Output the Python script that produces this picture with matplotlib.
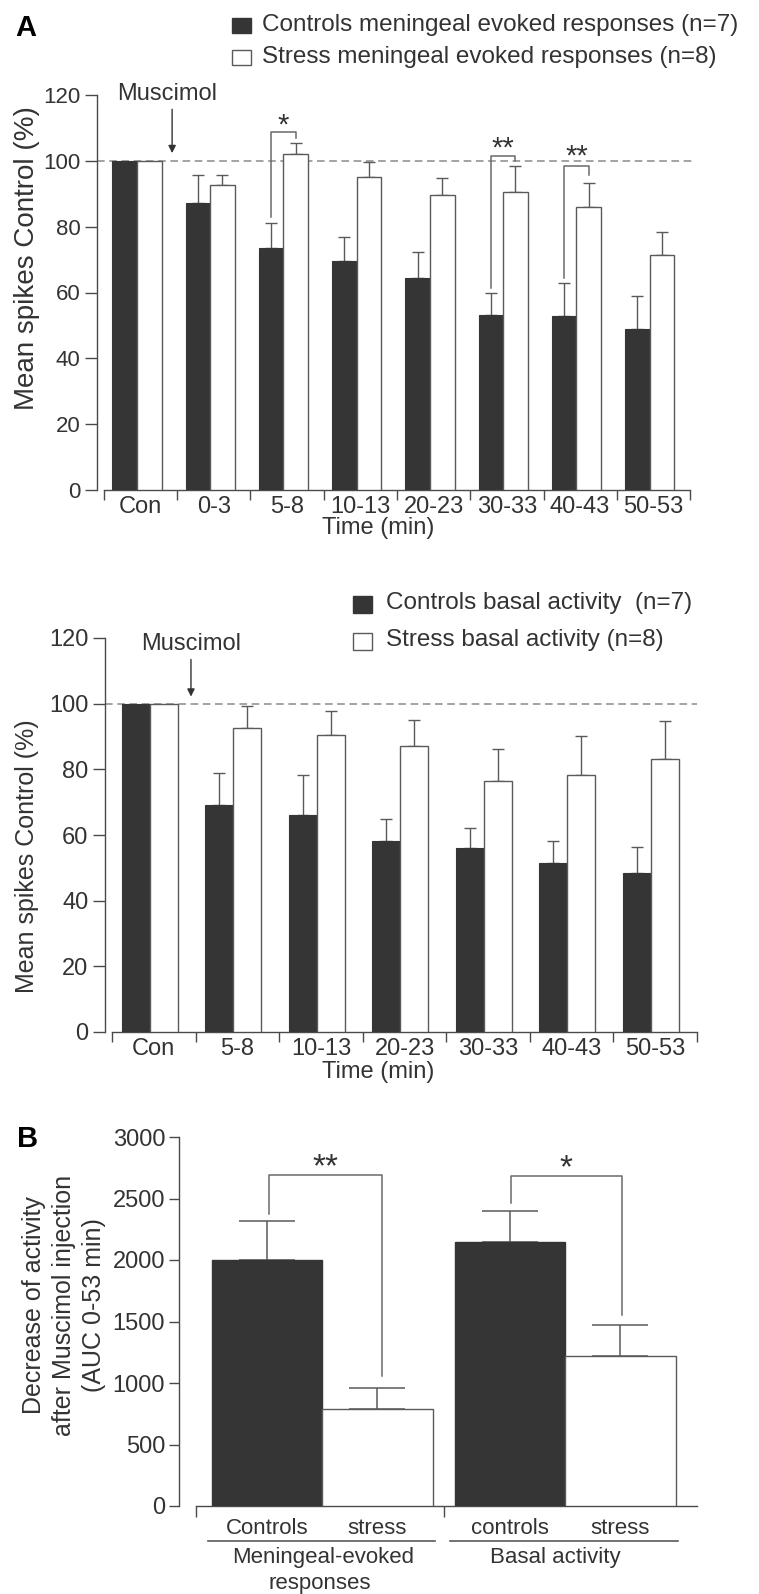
import numpy as np
import matplotlib
matplotlib.use("Agg")
import matplotlib.pyplot as plt
from matplotlib.patches import Rectangle
from matplotlib.lines import Line2D

plt.rcParams['font.family'] = ['Liberation Sans', 'DejaVu Sans']

# ---- data ----
cats_a = ['Con', '0-3', '5-8', '10-13', '20-23', '30-33', '40-43', '50-53']
ctrl_a = [100, 87.3, 73.5, 69.7, 64.5, 53.3, 53.0, 48.8]
ctrl_a_top = [100, 95.7, 81.0, 76.9, 72.3, 59.8, 62.8, 58.8]
stress_a = [100, 92.6, 102.0, 95.0, 89.7, 90.4, 85.9, 71.4]
stress_a_top = [100, 95.7, 105.4, 99.5, 94.7, 98.3, 93.4, 78.3]

cats_b = ['Con', '5-8', '10-13', '20-23', '30-33', '40-43', '50-53']
ctrl_b = [100, 69.1, 66.1, 58.2, 56.1, 51.6, 48.5]
ctrl_b_top = [100, 78.8, 78.2, 65.0, 62.0, 58.2, 56.4]
stress_b = [100, 92.7, 90.6, 87.0, 76.4, 78.4, 83.0]
stress_b_top = [100, 99.2, 97.9, 94.9, 86.3, 90.2, 94.6]

auc_labels = ['Controls', 'stress', 'controls', 'stress']
auc_vals = [2000, 785, 2150, 1220]
auc_top = [2320, 962, 2400, 1475]

DARK = '#353535'
GREY = '#5a5a5a'
AXC = '#4a4a4a'
TXT = '#333333'

W, H = 759, 1594
fig = plt.figure(figsize=(W / 100, H / 100), dpi=100)


def axes_px(l, r, t, b):
    return fig.add_axes([l / W, 1 - b / H, (r - l) / W, (b - t) / H])


def ftext(x, y, s, **kw):
    return fig.text(x / W, 1 - y / H, s, **kw)


def square(x, y, w, h, fc, ec):
    # x, y = top-left corner in pixels
    fig.add_artist(Rectangle((x / W, 1 - (y + h) / H), w / W, h / H, transform=fig.transFigure,
                             facecolor=fc, edgecolor=ec, lw=1))


def time_panel(ax, cats, c, ctop, s, stop, ytick_fs):
    n = len(cats)
    idx = np.arange(n)
    w = 0.335
    off = -0.05
    xc = idx + off - w / 2
    xs = idx + off + w / 2
    ax.axhline(100, color='#8a8a8a', lw=1.1, ls=(0, (5, 3)), zorder=1)
    ax.bar(xc, c, width=w, color=DARK, edgecolor=DARK, lw=0.8, zorder=3)
    ax.bar(xs, s, width=w, color='white', edgecolor=GREY, lw=1.0, zorder=3)
    c = np.array(c)
    s = np.array(s)
    ax.errorbar(xc[1:], c[1:], yerr=[np.zeros(n - 1), np.array(ctop)[1:] - c[1:]],
                fmt='none', ecolor=GREY, elinewidth=1, capsize=4.5, capthick=1, zorder=2)
    ax.errorbar(xs[1:], s[1:], yerr=[np.zeros(n - 1), np.array(stop)[1:] - s[1:]],
                fmt='none', ecolor=GREY, elinewidth=1, capsize=4.5, capthick=1, zorder=2)
    ax.set_ylim(0, 120)
    for sp in ['top', 'right']:
        ax.spines[sp].set_visible(False)
    ax.spines['left'].set_bounds(0, 120)
    ax.spines['bottom'].set_bounds(-0.5, n - 0.5)
    for sp in ['left', 'bottom']:
        ax.spines[sp].set_color(AXC)
        ax.spines[sp].set_linewidth(1)
    ax.set_yticks(range(0, 121, 20))
    ax.tick_params(axis='y', length=9, width=1, color=AXC, labelsize=ytick_fs, pad=3,
                   labelcolor=TXT)
    ax.set_xticks(idx)
    ax.set_xticklabels(cats, fontsize=17, color=TXT)
    ax.set_xticks(np.arange(n + 1) - 0.5, minor=True)
    ax.tick_params(axis='x', which='major', length=0, pad=4)
    ax.tick_params(axis='x', which='minor', length=7, width=1, color=AXC)
    ax.patch.set_alpha(0)
    return xc, xs


def bracket(ax, x1, x2, y1, ytop, y2, label, ty, fs=21):
    ax.plot([x1, x1, x2, x2], [y1, ytop, ytop, y2], color='#6a6a6a', lw=1.1,
            clip_on=False, zorder=4)
    ax.text((x1 + x2) / 2, ty, label, ha='center', va='baseline', fontsize=fs, color=TXT)


# ---------- panel A, top ----------
ax1 = axes_px(97, 692, 95, 490)
u1 = (690 - 104) / 8
ax1.set_xlim((97 - 104) / u1 - 0.5, (692 - 104) / u1 - 0.5)
xc1, xs1 = time_panel(ax1, cats_a, ctrl_a, ctrl_a_top, stress_a, stress_a_top, 16)
bracket(ax1, xc1[2], xs1[2], 83, 108.9, 107, '*', 108.2)
bracket(ax1, xc1[5], xs1[5], 61.5, 101.6, 99.8, '**', 101.2)
bracket(ax1, xc1[6], xs1[6], 64.5, 98.3, 95.7, '**', 98.8)
ax1.annotate('', xy=(0.43, 101.5), xytext=(0.43, 116.5),
             arrowprops=dict(arrowstyle='-|>', color=TXT, lw=1, mutation_scale=11))
ax1.text(0.36, 120.4, 'Muscimol', ha='center', va='center', fontsize=17, color=TXT)

ftext(15, 28, 'A', fontsize=21, fontweight='bold', ha='left', va='center')
ftext(27, 258, 'Mean spikes Control (%)', rotation=90, fontsize=20, ha='center', va='center',
      color=TXT)
ftext(378, 528, 'Time (min)', fontsize=17, ha='center', va='center', color=TXT)

square(232, 18, 19, 15, DARK, DARK)
square(232, 50, 19, 15, 'white', GREY)
ftext(262, 25, 'Controls meningeal evoked responses (n=7)', fontsize=17.5, va='center',
      color=TXT)
ftext(262, 57, 'Stress meningeal evoked responses (n=8)', fontsize=17.5, va='center',
      color=TXT)

# ---------- panel A, middle ----------
ax2 = axes_px(105, 697, 638, 1032)
u2 = (697 - 112) / 7
ax2.set_xlim((105 - 112) / u2 - 0.5, (697 - 112) / u2 - 0.5)
time_panel(ax2, cats_b, ctrl_b, ctrl_b_top, stress_b, stress_b_top, 17)
ax2.annotate('', xy=(0.445, 101.3), xytext=(0.445, 114.3),
             arrowprops=dict(arrowstyle='-|>', color=TXT, lw=1, mutation_scale=11))
ax2.text(0.445, 118.3, 'Muscimol', ha='center', va='center', fontsize=17, color=TXT)
ftext(27, 856, 'Mean spikes Control (%)', rotation=90, fontsize=18, ha='center', va='center',
      color=TXT)
ftext(378, 1072, 'Time (min)', fontsize=17, ha='center', va='center', color=TXT)

square(353, 596, 19, 17, DARK, DARK)
square(353, 633, 19, 17, 'white', GREY)
ftext(386, 603, 'Controls basal activity  (n=7)', fontsize=17.5, va='center', color=TXT)
ftext(386, 640, 'Stress basal activity (n=8)', fontsize=17.5, va='center', color=TXT)

# ---------- panel B ----------
ax3 = axes_px(179, 697, 1137, 1506)
u3 = 110.5
ax3.set_xlim((179 - 266.8) / u3, (697 - 266.8) / u3)
pos = np.array([0, 1, 2.2, 3.2])
ax3.bar(pos, auc_vals, width=1.0, color=[DARK, 'white', DARK, 'white'],
        edgecolor=[DARK, GREY, DARK, GREY], lw=1, zorder=3)
ax3.errorbar(pos, auc_vals, yerr=[np.zeros(4), np.array(auc_top) - np.array(auc_vals)],
             fmt='none', ecolor=GREY, elinewidth=1.1, capsize=20, capthick=1.1, zorder=2)
ax3.set_ylim(0, 3000)
for sp in ['top', 'right']:
    ax3.spines[sp].set_visible(False)
ax3.spines['left'].set_bounds(0, 3000)
ax3.spines['bottom'].set_bounds((196 - 266.8) / u3, (697 - 266.8) / u3)
for sp in ['left', 'bottom']:
    ax3.spines[sp].set_color(AXC)
    ax3.spines[sp].set_linewidth(1)
ax3.set_yticks(range(0, 3001, 500))
ax3.tick_params(axis='y', length=7, width=1, color=AXC, labelsize=17, pad=3, labelcolor=TXT)
ax3.set_xticks(pos)
ax3.set_xticklabels(auc_labels, fontsize=16, color=TXT)
ax3.set_xticks([(196 - 266.8) / u3, (444 - 266.8) / u3], minor=True)
ax3.tick_params(axis='x', which='major', length=0, pad=9)
ax3.tick_params(axis='x', which='minor', length=8, width=1, color=AXC)
ax3.patch.set_alpha(0)
bracket(ax3, pos[0] + 0.02, pos[1] + 0.04, 2370, 2695, 1054, '**', 2680, fs=24)
bracket(ax3, pos[2] + 0.01, pos[3] + 0.01, 2460, 2683, 1553, '*', 2670, fs=24)

for x1, x2 in [(208, 435), (450, 678)]:
    fig.add_artist(Line2D([x1 / W, x2 / W], [1 - 1541 / H] * 2, transform=fig.transFigure,
                          color=GREY, lw=1.2))
ftext(323, 1557, 'Meningeal-evoked', fontsize=16, ha='center', va='center', color=TXT)
ftext(320, 1583, 'responses', fontsize=16, ha='center', va='center', color=TXT)
ftext(555, 1557, 'Basal activity', fontsize=16, ha='center', va='center', color=TXT)
ftext(17, 1139, 'B', fontsize=21, fontweight='bold', ha='left', va='center')
ftext(64, 1305, 'Decrease of activity\nafter Muscimol injection\n(AUC 0-53 min)', rotation=90,
      fontsize=18, ha='center', va='center', linespacing=1.3, multialignment='center',
      color=TXT)

fig.savefig('out.png', dpi=100)
